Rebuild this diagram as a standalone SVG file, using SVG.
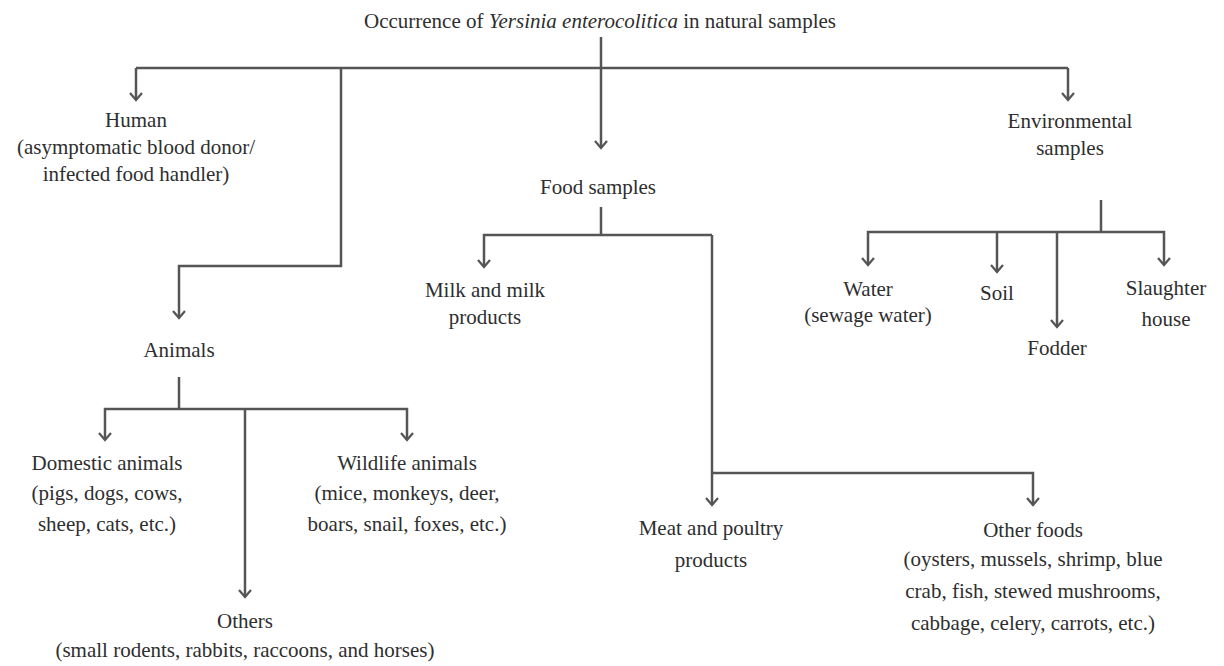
<svg xmlns="http://www.w3.org/2000/svg" width="1224" height="666" viewBox="0 0 1224 666">
<style>
  .t text { font-size: 21px; fill: #2e2e2e; text-anchor: middle; }
  .ln { fill: none; stroke: #555; stroke-width: 2.5; }
  .ar { fill: none; stroke: #555; stroke-width: 2.5; marker-end: url(#arr); }
</style>
<defs>
  <marker id="arr" viewBox="-8 -8 16 16" markerWidth="16" markerHeight="16" markerUnits="userSpaceOnUse" refX="0" refY="0" orient="auto">
    <path d="M-7,-6 L0,0 L-7,6" fill="none" stroke="#555" stroke-width="2.2"/>
  </marker>
</defs>
<rect width="1224" height="666" fill="#fff"/>
<g id="connectors">
  <path class="ar" d="M601,37 V148"/>
  <path class="ln" d="M136,68 H1068"/>
  <path class="ar" d="M136,68 V100"/>
  <path class="ar" d="M1068,68 V100"/>
  <path class="ar" d="M341,68 V266 H179 V318"/>
  <path class="ln" d="M601,207 V235"/>
  <path class="ar" d="M712,235 H484 V267"/>
  <path class="ln" d="M712,235 V473"/>
  <path class="ar" d="M712,473 V505"/>
  <path class="ar" d="M712,473 H1033 V505"/>
  <path class="ln" d="M1101,200 V232"/>
  <path class="ar" d="M1101,232 H868 V265"/>
  <path class="ar" d="M1101,232 H1164 V265"/>
  <path class="ar" d="M997,232 V272"/>
  <path class="ar" d="M1057,232 V327"/>
  <path class="ln" d="M179,377 V409"/>
  <path class="ar" d="M179,409 H105 V440"/>
  <path class="ar" d="M179,409 H407 V440"/>
  <path class="ar" d="M245,409 V597"/>
</g>
<g class="t" font-family="'Liberation Serif', 'DejaVu Serif', serif">
<g id="title"><text x="600" y="28">Occurrence of <tspan font-style="italic">Yersinia enterocolitica</tspan> in natural samples</text></g>
<g id="human"><text x="136" y="127">Human</text><text x="136" y="154">(asymptomatic blood donor/</text><text x="136" y="181">infected food handler)</text></g>
<g id="food"><text x="598" y="194">Food samples</text></g>
<g id="environmental"><text x="1070" y="128">Environmental</text><text x="1070" y="155">samples</text></g>
<g id="animals"><text x="179" y="357">Animals</text></g>
<g id="milk"><text x="485" y="297">Milk and milk</text><text x="485" y="324">products</text></g>
<g id="water"><text x="868" y="296">Water</text><text x="868" y="322">(sewage water)</text></g>
<g id="soil"><text x="997" y="300">Soil</text></g>
<g id="fodder"><text x="1057" y="355">Fodder</text></g>
<g id="slaughter"><text x="1166" y="295">Slaughter</text><text x="1166" y="326">house</text></g>
<g id="domestic"><text x="107" y="470">Domestic animals</text><text x="107" y="500">(pigs, dogs, cows,</text><text x="107" y="531">sheep, cats, etc.)</text></g>
<g id="wildlife"><text x="407" y="470">Wildlife animals</text><text x="407" y="500">(mice, monkeys, deer,</text><text x="407" y="531">boars, snail, foxes, etc.)</text></g>
<g id="others"><text x="245" y="628">Others</text><text x="245" y="657">(small rodents, rabbits, raccoons, and horses)</text></g>
<g id="meat"><text x="711" y="535">Meat and poultry</text><text x="711" y="567">products</text></g>
<g id="otherfoods"><text x="1033" y="537">Other foods</text><text x="1033" y="566">(oysters, mussels, shrimp, blue</text><text x="1033" y="598">crab, fish, stewed mushrooms,</text><text x="1033" y="630">cabbage, celery, carrots, etc.)</text></g>
</g>
</svg>
